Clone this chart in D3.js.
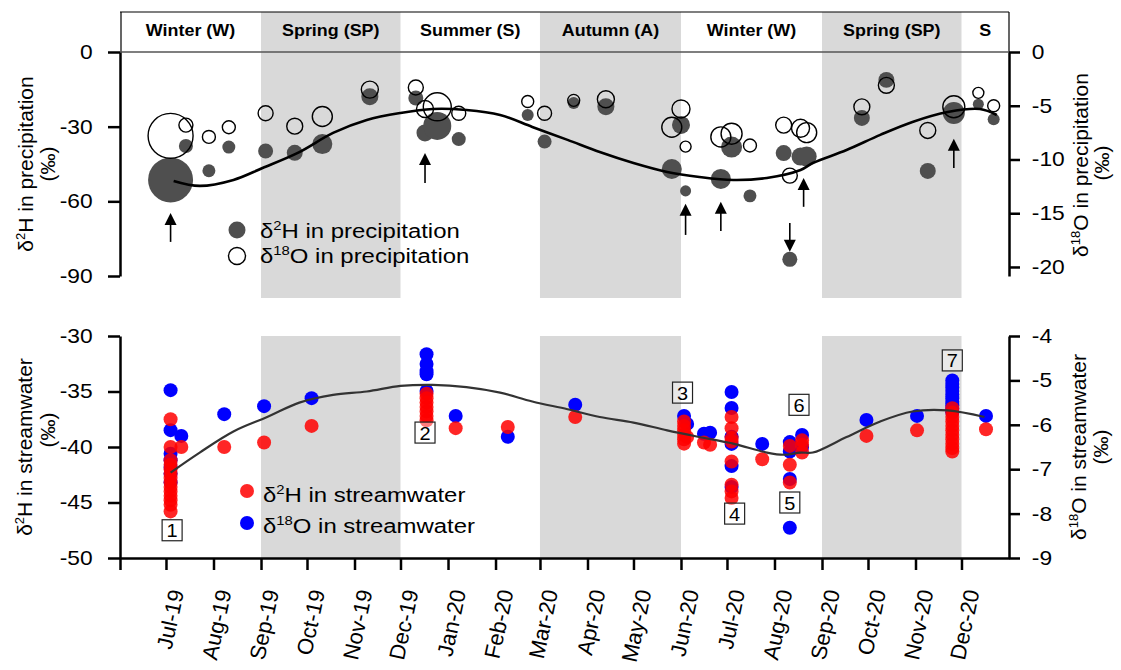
<!DOCTYPE html>
<html>
<head>
<meta charset="utf-8">
<script src="https://cdn.jsdelivr.net/npm/d3@7"></script>
<style>
  body { margin: 0; background: #fff; }
  svg text { font-family: "Liberation Sans", Arial, Helvetica, sans-serif; fill: #000; }
</style>
</head>
<body>
<svg id="chart" width="1121" height="670"></svg>
<script>
// ---------- seasons ----------
const seasonNames  = ["Winter (W)", "Spring (SP)", "Summer (S)", "Autumn (A)", "Winter (W)", "Spring (SP)", "S"];
const seasonStarts = ["2019-06-01", "2019-09-01", "2019-12-01", "2020-03-01", "2020-06-01", "2020-09-01", "2020-12-01"];
const seasonEnds   = ["2019-09-01", "2019-12-01", "2020-03-01", "2020-06-01", "2020-09-01", "2020-12-01", "2021-01-01"];

// ---------- precipitation samples ----------
const precipDates = ["2019-07-04","2019-07-14","2019-07-29","2019-08-11","2019-09-04","2019-09-23","2019-10-11","2019-11-11",
                     "2019-12-11","2019-12-17","2019-12-25","2020-01-08","2020-02-22","2020-03-04","2020-03-23","2020-04-13",
                     "2020-05-26","2020-06-01","2020-06-04","2020-06-27","2020-07-04","2020-07-16","2020-08-07","2020-08-11",
                     "2020-08-18","2020-08-22","2020-09-27","2020-10-13","2020-11-09","2020-11-26","2020-12-12","2020-12-22"];
const precipH = [-51.4,-37.8,-47.7,-38.2,-39.8,-40.5,-37.0,-18.0,
                 -18.5,-32.5,-29.7,-35.0,-25.3,-36.0,-20.5,-22.0,
                 -47.0,-29.3,-55.8,-51.0,-38.2,-57.8,-40.6,-83.3,
                 -42.0,-42.0,-26.5,-11.2,-47.8,-24.5,-21.0,-27.0];
const precipO = [-7.8,-6.8,-7.9,-7.0,-5.7,-6.9,-6.0,-3.5,
                 -3.3,-5.3,-5.1,-5.7,-4.6,-5.7,-4.5,-4.4,
                 -7.0,-5.3,-8.8,-7.9,-7.6,-8.7,-6.8,-11.5,
                 -7.1,-7.5,-5.1,-3.1,-7.3,-5.1,-3.8,-5.0];
const precipAmount = [100,9.7,8.3,8.3,11.1,12.6,19.8,14.3,
                      11.1,14.3,38.7,9.7,7.1,9.7,7.1,14.3,
                      19.8,16.0,6.0,19.8,21.8,8.3,12.6,11.1,
                      16.0,19.8,12.6,12.6,12.6,23.9,6.0,7.1];

// fitted seasonal curve of δ2H in precipitation
const precipFitDates = ["2019-07-06","2019-07-23","2019-08-14","2019-09-02","2019-09-26","2019-10-18","2019-11-09","2019-12-01",
                        "2019-12-22","2020-01-13","2020-02-04","2020-02-25","2020-03-19","2020-04-09","2020-05-01","2020-05-23",
                        "2020-06-13","2020-07-05","2020-07-27","2020-08-18","2020-08-26","2020-09-17","2020-10-09","2020-10-30",
                        "2020-11-22","2020-12-13","2020-12-24"];
const precipFit = [-51.8,-53.8,-51.4,-46.6,-40.2,-32.5,-27.3,-24.5,
                   -22.9,-23.3,-25.3,-30.1,-35.3,-40.2,-44.6,-48.2,
                   -50.2,-51.4,-50.6,-47.4,-44.6,-39.4,-33.3,-28.1,
                   -24.1,-22.9,-25.3];

// event arrows (δ2H scale: tail -> tip)
const arrowDates = ["2019-07-04","2019-12-17","2020-06-04","2020-06-27","2020-08-11","2020-08-20","2020-11-26"];
const arrowTail  = [-76.3,-52.6,-73.5,-71.9,-68.7,-62.2,-46.6];
const arrowTip   = [-64.7,-40.6,-61.0,-60.2,-80.3,-50.6,-34.9];

// ---------- streamwater samples ----------
const streamDates = ["2019-07-04","2019-07-11","2019-08-08","2019-09-03","2019-10-04","2019-12-18","2020-01-06",
                     "2020-02-09","2020-03-24","2020-06-03","2020-06-05","2020-06-16","2020-06-20","2020-07-04",
                     "2020-07-24","2020-08-11","2020-08-19","2020-09-30","2020-11-02","2020-11-25","2020-12-17"];
const streamH = [
  [-37.5,-40.0,-41.2,-41.6,-42.0,-42.4,-42.8,-43.2,-43.6,-44.0,-44.4,-44.8,-45.2,-45.8],
  [-40.0],[-40.0],[-39.6],[-38.1],
  [-35.2,-35.6,-36.0,-36.4,-36.8,-37.2,-37.6],
  [-38.3],[-38.2],[-37.3],
  [-37.7,-38.1,-38.5,-38.9,-39.3,-39.7],
  [-39.1],[-39.6],[-39.8],
  [-37.3,-38.3,-39.2,-39.5,-41.3,-43.4,-44.0,-44.6],
  [-41.1],
  [-39.9,-41.6,-43.2],
  [-39.4,-39.8,-40.5],
  [-39.0],[-38.5],
  [-36.5,-36.9,-37.3,-37.7,-38.1,-38.5,-38.9,-39.3,-39.7,-40.1,-40.4],
  [-38.4]
];
const streamO = [
  [-5.22,-6.12,-6.65,-6.80,-6.95,-7.10,-7.30],
  [-6.25],[-5.76],[-5.58],[-5.40],
  [-4.41,-4.63,-4.79,-4.86,-5.24],
  [-5.80],[-6.27],[-5.55],
  [-5.80],
  [-5.98],[-6.20],[-6.18],
  [-5.26,-5.62,-6.27,-6.43,-6.93,-7.40],
  [-6.43],
  [-6.39,-6.60,-7.22,-8.32],
  [-6.23,-6.50],
  [-5.89],[-5.80],
  [-5.00,-5.08,-5.16,-5.24,-5.32,-5.40,-5.48,-5.56,-5.64,-5.72],
  [-5.80]
];

// fitted seasonal curve of δ2H in streamwater
const streamFitDates = ["2019-07-04","2019-07-23","2019-08-14","2019-09-05","2019-09-26","2019-10-18","2019-11-09","2019-12-01",
                        "2019-12-22","2020-01-13","2020-02-04","2020-02-25","2020-03-19","2020-04-09","2020-05-01","2020-05-23",
                        "2020-06-13","2020-07-05","2020-07-27","2020-08-07","2020-08-18","2020-08-26","2020-09-17","2020-10-09",
                        "2020-10-30","2020-11-22","2020-12-16"];
const streamFit = [-42.3,-40.5,-38.6,-37.3,-36.0,-35.3,-35.0,-34.5,
                   -34.4,-34.6,-35.1,-35.9,-36.6,-37.3,-37.8,-38.5,
                   -39.1,-39.7,-40.5,-40.7,-40.5,-40.5,-39.1,-37.7,
                   -36.8,-36.7,-37.3];

// numbered event boxes (δ2H scale)
const eventLabels = ["1","2","3","4","5","6","7"];
const eventDates  = ["2019-07-05","2019-12-17","2020-06-02","2020-07-06","2020-08-11","2020-08-17","2020-11-25"];
const eventValues = [-47.5,-38.7,-35.1,-46.0,-45.0,-36.2,-32.2];

// axis ticks
const topHTicks = [0,-30,-60,-90];
const topOTicks = [0,-5,-10,-15,-20];
const botHTicks = [-30,-35,-40,-45,-50];
const botOTicks = [-4,-5,-6,-7,-8,-9];

// ---------- scales ----------
const parse = d3.utcParse("%Y-%m-%d");
const x = d3.scaleUtc().domain([parse("2019-06-01"), parse("2021-01-01")]).range([120, 1009]);
const yTopH = d3.scaleLinear().domain([0, -90]).range([52, 276]);
const yTopO = d3.scaleLinear().domain([0, -20.84]).range([52, 276]);
const yBotH = d3.scaleLinear().domain([-30, -50]).range([336, 558]);
const yBotO = d3.scaleLinear().domain([-4, -9]).range([336, 558]);
const rSize = d3.scaleSqrt().domain([0, 100]).range([0, 22.5]);

const SX = 1.14;   // horizontal widening of text
const svg = d3.select("#chart");

function sText(g, px, py, str, fs, opts = {}) {
  const t = g.append("text")
    .attr("transform", `translate(${px},${py}) scale(${opts.sx || SX},1)`)
    .attr("font-size", fs)
    .attr("text-anchor", opts.anchor || "start")
    .attr("font-weight", opts.bold ? "bold" : null)
    .text(str);
  return t;
}
function isoLabel(t, pre, sup, post, fs) {
  t.append("tspan").text(pre);
  t.append("tspan").attr("font-size", fs * 0.62).attr("dy", -fs * 0.38).text(sup);
  t.append("tspan").attr("dy", fs * 0.38).text(post);
  return t;
}

// ---------- season bands ----------
const bands = svg.append("g");
seasonNames.forEach((name, i) => {
  const x0 = x(parse(seasonStarts[i])), x1 = x(parse(seasonEnds[i]));
  if (name.startsWith("Spring") || name.startsWith("Autumn")) {
    bands.append("rect").attr("x", x0).attr("y", 12).attr("width", x1 - x0).attr("height", 286).attr("fill", "#d9d9d9");
    bands.append("rect").attr("x", x0).attr("y", 336).attr("width", x1 - x0).attr("height", 222).attr("fill", "#d9d9d9");
  }
  sText(bands, (x0 + x1) / 2, 36, name, 16, { anchor: "middle", bold: true, sx: 1.12 });
});
// header frame
const hdr = svg.append("g").attr("fill", "none");
hdr.append("line").attr("x1", 120).attr("x2", 1009).attr("y1", 12).attr("y2", 12).attr("stroke", "#000").attr("stroke-width", 1.2);
hdr.append("line").attr("x1", 121).attr("x2", 121).attr("y1", 12).attr("y2", 52).attr("stroke", "#000").attr("stroke-width", 1.2);
hdr.append("line").attr("x1", 1009).attr("x2", 1009).attr("y1", 12).attr("y2", 52).attr("stroke", "#000").attr("stroke-width", 1.2);
hdr.append("line").attr("x1", 120).attr("x2", 1009).attr("y1", 52).attr("y2", 52).attr("stroke", "#555").attr("stroke-width", 1.5);

// ---------- top panel: precipitation ----------
const topG = svg.append("g");
const precip = precipDates.map((d, i) => ({ date: parse(d), h: precipH[i], o: precipO[i], amt: precipAmount[i] }));

topG.selectAll("circle.h").data(precip).join("circle")
  .attr("cx", d => x(d.date)).attr("cy", d => yTopH(d.h)).attr("r", d => rSize(d.amt))
  .attr("fill", "#4f4f4f");
topG.selectAll("circle.o").data(precip).join("circle")
  .attr("cx", d => x(d.date)).attr("cy", d => yTopO(d.o)).attr("r", d => rSize(d.amt))
  .attr("fill", "none").attr("stroke", "#000").attr("stroke-width", 1.4);

const topLine = d3.line().x(d => x(d[0])).y(d => yTopH(d[1])).curve(d3.curveCatmullRom);
topG.append("path")
  .attr("d", topLine(precipFitDates.map((d, i) => [parse(d), precipFit[i]])))
  .attr("fill", "none").attr("stroke", "#000").attr("stroke-width", 2.6);

// arrows
arrowDates.forEach((d, i) => {
  const ax = x(parse(d));
  const yT = yTopH(arrowTip[i]), yL = yTopH(arrowTail[i]);
  const s = yL > yT ? 1 : -1;           // 1 = pointing up
  topG.append("line").attr("x1", ax).attr("x2", ax).attr("y1", yL).attr("y2", yT + s * 10)
    .attr("stroke", "#000").attr("stroke-width", 1.6);
  topG.append("path")
    .attr("d", `M${ax},${yT}L${ax - 6},${yT + s * 12}L${ax + 6},${yT + s * 12}Z`)
    .attr("fill", "#000");
});

// top legend
topG.append("circle").attr("cx", 237).attr("cy", 230).attr("r", 8.5).attr("fill", "#4f4f4f");
isoLabel(sText(topG, 260, 238, "", 21), "δ", "2", "H in precipitation", 21);
topG.append("circle").attr("cx", 237).attr("cy", 256).attr("r", 8.5).attr("fill", "none").attr("stroke", "#000").attr("stroke-width", 1.4);
isoLabel(sText(topG, 260, 263, "", 21), "δ", "18", "O in precipitation", 21);

// ---------- bottom panel: streamwater ----------
const botG = svg.append("g");
const blues = [], reds = [];
streamDates.forEach((d, i) => {
  const dt = parse(d);
  streamO[i].forEach(v => blues.push({ date: dt, v }));
  streamH[i].forEach(v => reds.push({ date: dt, v }));
});
botG.selectAll("circle.b").data(blues).join("circle")
  .attr("cx", d => x(d.date)).attr("cy", d => yBotO(d.v)).attr("r", 7)
  .attr("fill", "#0000ff");
botG.selectAll("circle.r").data(reds).join("circle")
  .attr("cx", d => x(d.date)).attr("cy", d => yBotH(d.v)).attr("r", 7)
  .attr("fill", "#ff0000").attr("fill-opacity", 0.85);

const botLine = d3.line().x(d => x(d[0])).y(d => yBotH(d[1])).curve(d3.curveCatmullRom);
botG.append("path")
  .attr("d", botLine(streamFitDates.map((d, i) => [parse(d), streamFit[i]])))
  .attr("fill", "none").attr("stroke", "#333").attr("stroke-width", 2.2);

// numbered boxes
eventLabels.forEach((lab, i) => {
  const cx = x(parse(eventDates[i])), cy = yBotH(eventValues[i]);
  botG.append("rect").attr("x", cx - 10).attr("y", cy - 10.5).attr("width", 20).attr("height", 21)
    .attr("fill", "#fff").attr("fill-opacity", 0.4).attr("stroke", "#222").attr("stroke-width", 1.2);
  sText(botG, cx, cy + 7, lab, 19, { anchor: "middle", sx: 1.05 });
});

// bottom legend
botG.append("circle").attr("cx", 247).attr("cy", 491).attr("r", 7).attr("fill", "#ff0000").attr("fill-opacity", 0.85);
isoLabel(sText(botG, 263, 502, "", 21), "δ", "2", "H in streamwater", 21);
botG.append("circle").attr("cx", 247).attr("cy", 523).attr("r", 7).attr("fill", "#0000ff");
isoLabel(sText(botG, 263, 533, "", 21), "δ", "18", "O in streamwater", 21);

// ---------- axes ----------
function styleAxis(g, fs) {
  g.attr("font-family", null).attr("font-size", null);
  g.select(".domain").attr("stroke", "#000").attr("stroke-width", 2.5);
  g.selectAll(".tick line").attr("stroke", "#000").attr("stroke-width", 2.5);
  g.selectAll(".tick text").attr("font-size", fs).attr("fill", "#000");
}
const fmt = d => String(d);

const gTL = svg.append("g").attr("transform", "translate(120,0)")
  .call(d3.axisLeft(yTopH).tickValues(topHTicks).tickFormat(fmt).tickSize(12).tickSizeOuter(0).tickPadding(12));
styleAxis(gTL, 20);
gTL.selectAll(".tick text").attr("transform", `scale(${SX},1)`);

const gTR = svg.append("g").attr("transform", "translate(1009,0)")
  .call(d3.axisRight(yTopO).tickValues(topOTicks).tickFormat(fmt).tickSize(11).tickSizeOuter(0).tickPadding(9));
styleAxis(gTR, 20);
gTR.selectAll(".tick text").attr("transform", `scale(${SX},1)`);

const gBL = svg.append("g").attr("transform", "translate(120,0)")
  .call(d3.axisLeft(yBotH).tickValues(botHTicks).tickFormat(fmt).tickSize(12).tickSizeOuter(0).tickPadding(12));
styleAxis(gBL, 20);
gBL.selectAll(".tick text").attr("transform", `scale(${SX},1)`);

const gBR = svg.append("g").attr("transform", "translate(1009,0)")
  .call(d3.axisRight(yBotO).tickValues(botOTicks).tickFormat(fmt).tickSize(11).tickSizeOuter(0).tickPadding(9));
styleAxis(gBR, 20);
gBR.selectAll(".tick text").attr("transform", `scale(${SX},1)`);

const monthTicks = d3.utcMonth.range(parse("2019-06-01"), parse("2021-01-01"));
const monthFmt = d3.utcFormat("%b-%y");
const gX = svg.append("g").attr("transform", "translate(0,558)")
  .call(d3.axisBottom(x).tickValues(monthTicks)
    .tickFormat((d, i) => i === 0 ? "" : monthFmt(d))
    .tickSize(12).tickSizeOuter(0));
styleAxis(gX, 22);
gX.selectAll(".tick text")
  .attr("x", 0).attr("y", 0).attr("dy", "0.35em")
  .attr("text-anchor", "end")
  .attr("transform", "translate(10,32) rotate(-78)");

// ---------- axis titles ----------
function vTitle(px, py, pre, sup, post) {
  const t = svg.append("text").attr("transform", `translate(${px},${py}) rotate(-90)`)
    .attr("text-anchor", "middle").attr("font-size", 21).attr("dy", "0.35em");
  if (sup) isoLabel(t, pre, sup, post, 21); else t.text(pre);
}
vTitle(26, 164, "δ", "2", "H in precipitation");
vTitle(48, 164, "(‰)");
vTitle(1081, 165, "δ", "18", "O in precipitation");
vTitle(1102, 163, "(‰)");
vTitle(25, 447, "δ", "2", "H in streamwater");
vTitle(48, 430, "(‰)");
vTitle(1079, 447, "δ", "18", "O in streamwater");
vTitle(1101, 447, "(‰)");
</script>
</body>
</html>
